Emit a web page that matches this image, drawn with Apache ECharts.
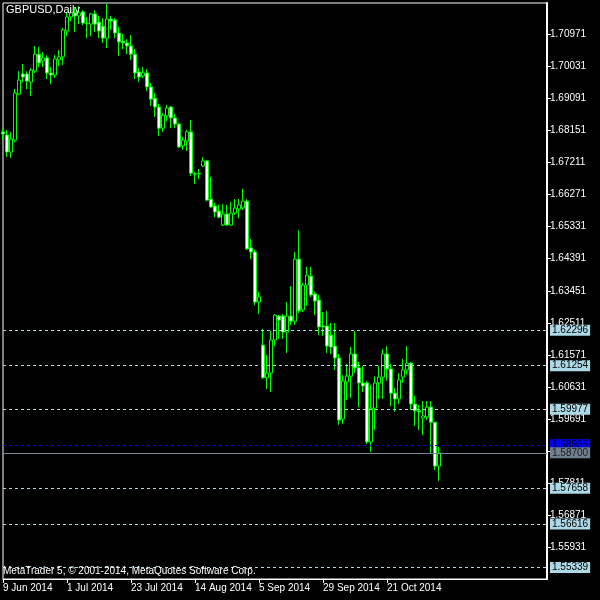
<!DOCTYPE html>
<html><head><meta charset="utf-8">
<script src="https://cdn.jsdelivr.net/npm/echarts@6/dist/echarts.min.js"></script>
<style>html,body{margin:0;padding:0;background:#000;}#c{width:600px;height:600px;}</style>
</head><body><div id="c"></div>
<script>
const symbolName = 'GBPUSD,Daily';
const copyright = 'MetaTrader 5, © 2001-2014, MetaQuotes Software Corp.';
const firstDay = [2014, 5, 9];   // 9 Jun 2014
const slotCount = 137;           // bar slots across the chart width (incl. empty right margin)
const dateLabelEvery = 16;

const opens = [1.6811,1.6802,1.6752,1.6787,1.6922,1.6981,1.6981,1.6957,1.6989,1.7039,
1.7019,1.7028,1.6984,1.6978,1.7022,1.7031,1.7107,1.7148,1.7160,1.7151,
1.7163,1.7130,1.7127,1.7157,1.7133,1.7121,1.7086,1.7142,1.7139,1.7101,
1.7077,1.7072,1.7063,1.7039,1.6987,1.6975,1.6984,1.6943,1.6910,1.6884,
1.6822,1.6858,1.6884,1.6852,1.6834,1.6770,1.6784,1.6811,1.6688,1.6688,
1.6711,1.6726,1.6614,1.6594,1.6579,1.6538,1.6570,1.6538,1.6573,1.6585,
1.6588,1.6608,1.6471,1.6459,1.6312,1.6186,1.6090,1.6104,1.6201,1.6271,
1.6271,1.6224,1.6271,1.6256,1.6438,1.6289,1.6362,1.6388,1.6336,1.6318,
1.6242,1.6242,1.6215,1.6183,1.6148,1.5969,1.6078,1.6095,1.6160,1.6119,
1.6075,1.6075,1.5902,1.6001,1.6075,1.6092,1.6160,1.6116,1.6045,1.6028,
1.6092,1.6113,1.6133,1.6013,1.5993,1.5972,1.5975,1.6004,1.5960,1.5831];
const highs = [1.6820,1.6817,1.6811,1.6937,1.6989,1.7010,1.6989,1.6998,1.7063,1.7060,
1.7045,1.7036,1.7001,1.7036,1.7051,1.7116,1.7163,1.7171,1.7177,1.7180,
1.7168,1.7148,1.7160,1.7168,1.7151,1.7145,1.7186,1.7151,1.7145,1.7119,
1.7098,1.7083,1.7095,1.7054,1.6998,1.7001,1.6995,1.6954,1.6925,1.6893,
1.6866,1.6890,1.6887,1.6864,1.6837,1.6796,1.6817,1.6846,1.6693,1.6702,
1.6737,1.6729,1.6679,1.6603,1.6597,1.6600,1.6597,1.6606,1.6614,1.6614,
1.6644,1.6614,1.6497,1.6465,1.6342,1.6233,1.6157,1.6227,1.6277,1.6274,
1.6277,1.6312,1.6359,1.6459,1.6523,1.6368,1.6415,1.6415,1.6342,1.6333,
1.6283,1.6286,1.6251,1.6251,1.6160,1.6098,1.6131,1.6180,1.6227,1.6136,
1.6125,1.6081,1.6069,1.6095,1.6125,1.6174,1.6183,1.6131,1.6060,1.6104,
1.6145,1.6183,1.6136,1.6037,1.6010,1.6022,1.6022,1.6022,1.5960,1.5887];
const lows = [1.6787,1.6738,1.6735,1.6781,1.6919,1.6957,1.6937,1.6916,1.6984,1.7001,
1.7001,1.6966,1.6951,1.6969,1.7004,1.7007,1.7092,1.7136,1.7104,1.7127,
1.7124,1.7086,1.7092,1.7104,1.7086,1.7072,1.7057,1.7110,1.7086,1.7034,
1.7054,1.7039,1.7022,1.6966,1.6957,1.6969,1.6931,1.6887,1.6855,1.6799,
1.6811,1.6843,1.6822,1.6822,1.6764,1.6758,1.6755,1.6682,1.6658,1.6673,
1.6708,1.6608,1.6588,1.6561,1.6558,1.6535,1.6535,1.6535,1.6567,1.6558,
1.6582,1.6465,1.6438,1.6303,1.6277,1.6087,1.6057,1.6048,1.6183,1.6204,
1.6204,1.6163,1.6245,1.6245,1.6280,1.6283,1.6301,1.6327,1.6274,1.6215,
1.6213,1.6163,1.6160,1.6113,1.5952,1.5955,1.6025,1.6031,1.6104,1.6004,
1.6048,1.5896,1.5873,1.5937,1.6028,1.6028,1.6081,1.6007,1.5990,1.6013,
1.6075,1.6099,1.5996,1.5949,1.5937,1.5922,1.5966,1.5870,1.5820,1.5787];
const closes = [1.6805,1.6752,1.6790,1.6925,1.6963,1.6972,1.6960,1.6992,1.7039,1.7013,
1.7028,1.6984,1.6978,1.7025,1.7031,1.7110,1.7148,1.7160,1.7151,1.7160,
1.7130,1.7129,1.7157,1.7127,1.7107,1.7086,1.7142,1.7136,1.7101,1.7075,
1.7072,1.7063,1.7039,1.6984,1.6972,1.6984,1.6943,1.6907,1.6884,1.6822,
1.6860,1.6881,1.6852,1.6834,1.6767,1.6787,1.6811,1.6690,1.6687,1.6689,
1.6726,1.6611,1.6591,1.6576,1.6561,1.6570,1.6538,1.6573,1.6588,1.6597,
1.6608,1.6468,1.6459,1.6312,1.6327,1.6090,1.6104,1.6201,1.6274,1.6259,
1.6224,1.6271,1.6256,1.6438,1.6286,1.6362,1.6391,1.6333,1.6315,1.6239,
1.6239,1.6183,1.6180,1.6148,1.5966,1.6081,1.6095,1.6160,1.6119,1.6075,
1.6066,1.5902,1.6001,1.6075,1.6092,1.6160,1.6116,1.6045,1.6028,1.6084,
1.6113,1.6133,1.6013,1.5993,1.5990,1.5978,1.6004,1.5960,1.5831,1.5870];

const priceTicks = [1.55931,1.56871,1.57811,1.58751,1.59691,1.60631,1.61571,1.62511,1.63451,
1.64391,1.65331,1.66271,1.67211,1.68151,1.69091,1.70031,1.70971];
const levelLines = [1.62296,1.61254,1.59977,1.57658,1.56616,1.55339];
const askLine = 1.58935;
const bidLine = 1.58700;
const priceMin = 1.5500, priceMax = 1.7189;

const monthNames = ['Jan','Feb','Mar','Apr','May','Jun','Jul','Aug','Sep','Oct','Nov','Dec'];
function tradingDays(start, n) {
  const out = [];
  const d = new Date(Date.UTC(start[0], start[1], start[2]));
  while (out.length < n) {
    const wd = d.getUTCDay();
    if (wd !== 0 && wd !== 6) out.push(d.getUTCDate() + ' ' + monthNames[d.getUTCMonth()] + ' ' + d.getUTCFullYear());
    d.setUTCDate(d.getUTCDate() + 1);
  }
  return out;
}
const categories = tradingDays(firstDay, slotCount);

const FONT = 'Liberation Sans';
const showDate = (i) => i % dateLabelEvery === 0 && i < closes.length;

function levelItem(v, lineColor, lineType, boxColor, textColor) {
  return {
    yAxis: v,
    lineStyle: { color: lineColor, type: lineType, width: 1 },
    label: { backgroundColor: boxColor, color: textColor }
  };
}
const markData = levelLines.map(v => levelItem(v, '#add8e6', [3, 3], '#add8e6', '#000'));
markData.push(levelItem(askLine, '#0000ff', [3, 3], '#0000ff', '#000'));
markData.push(levelItem(bidLine, '#778899', 'solid', '#708090', '#1a1a1a'));

const chart = echarts.init(document.getElementById('c'), null, { renderer: 'canvas' });
chart.setOption({
  backgroundColor: '#000',
  animation: false,
  title: [
    { text: symbolName, left: 6, top: 4, padding: 0, textStyle: { color: '#fff', fontSize: 11, fontWeight: 'normal', fontFamily: FONT } },
    { text: copyright, left: 3, top: 566, padding: 0, textStyle: { color: '#fff', fontSize: 10, fontWeight: 'normal', fontFamily: FONT } }
  ],
  grid: { left: 2, top: 3, right: 53, bottom: 21, show: true, borderColor: '#fff', borderWidth: 1, backgroundColor: '#000' },
  xAxis: {
    type: 'category', data: categories, boundaryGap: false,
    axisLine: { show: true, lineStyle: { color: '#fff', width: 1 } },
    axisTick: { show: true, interval: showDate, length: 4, lineStyle: { color: '#fff' } },
    axisLabel: { interval: showDate, color: '#fff', fontSize: 10, fontFamily: FONT, align: 'left', margin: 4 },
    splitLine: { show: false }
  },
  yAxis: {
    type: 'value', position: 'right', min: priceMin, max: priceMax,
    axisLine: { show: true, lineStyle: { color: '#fff', width: 2 } },
    axisTick: { show: true, customValues: priceTicks, length: 4, lineStyle: { color: '#fff' } },
    axisLabel: { customValues: priceTicks, formatter: v => v.toFixed(5), color: '#fff', fontSize: 10, fontFamily: FONT, margin: 3 },
    splitLine: { show: false }
  },
  series: [{
    type: 'candlestick',
    data: opens.map((o, i) => [o, closes[i], lows[i], highs[i]]),
    barWidth: 3,
    itemStyle: { color: '#000', color0: '#fff', borderColor: '#00ff00', borderColor0: '#00ff00', borderColorDoji: '#00ff00', borderWidth: 1 },
    markLine: {
      silent: true, symbol: ['none', 'none'], animation: false, precision: 5,
      label: { show: true, position: 'end', distance: 3, formatter: p => Number(p.value).toFixed(5), fontSize: 10, fontFamily: FONT, padding: [1, 2, 0, 2] },
      data: markData
    }
  }]
});
</script></body></html>
